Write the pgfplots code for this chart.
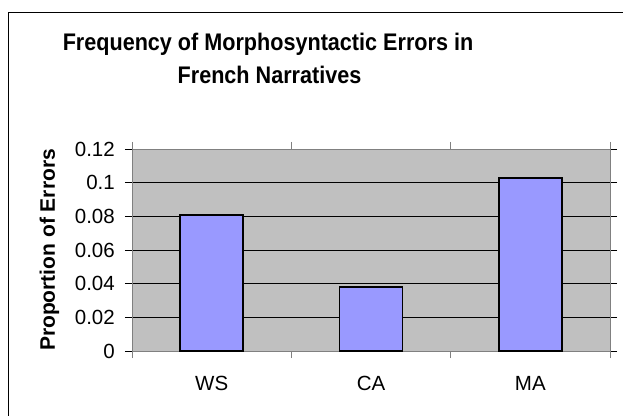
\documentclass[border=0pt]{standalone}
\usepackage{fontspec}
\setmainfont{Liberation Sans}
\newfontfamily\titlefont[FakeStretch=0.9]{Liberation Sans Bold}
\usepackage{pgfplots}
\pgfplotsset{compat=1.18}
\definecolor{plotbg}{HTML}{C0C0C0}
\definecolor{barfill}{HTML}{9999FF}
\definecolor{axgray}{HTML}{808080}
\begin{document}
\begin{tikzpicture}[x=1pt,y=1pt]
\useasboundingbox (0,0) rectangle (623,415);
\draw[black, line width=1pt] (8.5,-5) -- (8.5,402.5) -- (630,402.5);
\node[font=\fontsize{24}{28}\titlefont, anchor=base, inner sep=0pt] at (268,364.3) {Frequency of Morphosyntactic Errors in};
\node[font=\fontsize{24}{28}\titlefont, anchor=base, inner sep=0pt] at (269.5,331) {French Narratives};
\begin{axis}[
  at={(132pt,64pt)}, anchor=south west,
  scale only axis, width=478pt, height=202pt,
  xmin=-0.5, xmax=2.5, ymin=0, ymax=0.12,
  ytick={0,0.02,0.04,0.06,0.08,0.1,0.12},
  /pgf/number format/assume math mode=true,
  yticklabel style={/pgf/number format/fixed, /pgf/number format/precision=2, anchor=east, inner sep=0pt, xshift=-10pt, font=\fontsize{20.5}{24}\selectfont},
  ymajorgrids, major grid style={black, line width=0.8pt},
  axis background/.style={fill=plotbg},
  axis line style={axgray, line width=1pt},
  xtick={-0.5,0.5,1.5,2.5}, xticklabels={},
  extra x ticks={0,1,2}, extra x tick labels={WS,CA,MA},
  extra x tick style={major tick length=0pt, grid=none, xticklabel style={anchor=base, inner sep=0pt, yshift=-39pt, font=\fontsize{20.5}{24}\selectfont}},
  tick align=outside,
  major tick length=7pt,
  ytick style={black, line width=1pt},
  xtick style={axgray, line width=1pt},
  ylabel={Proportion of Errors},
  ylabel style={at={(axis description cs:0,0.5)}, rotate=0, anchor=base, yshift=77pt, inner sep=0pt, font=\fontsize{21}{24}\selectfont\bfseries},
]
\addplot[ybar, bar width=63pt, fill=barfill, draw=black, line width=1.8pt] coordinates {(0,0.0808) (1,0.0378) (2,0.1026)};
\end{axis}
\end{tikzpicture}
\end{document}
